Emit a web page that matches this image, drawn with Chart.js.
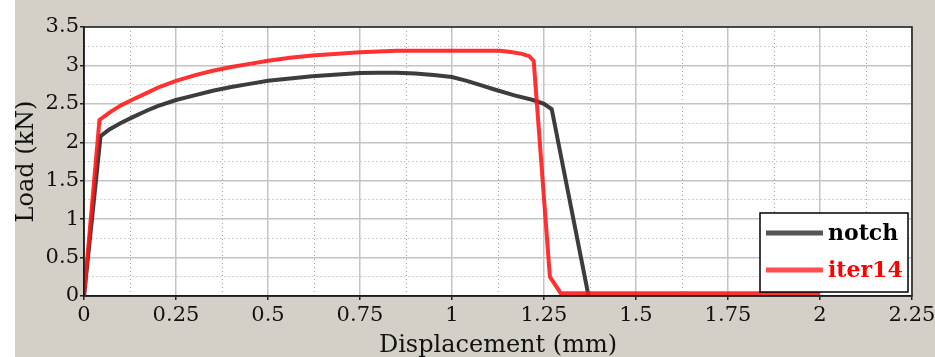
<!DOCTYPE html>
<html>
<head>
<meta charset="utf-8">
<script src="https://cdn.jsdelivr.net/npm/chart.js@4/dist/chart.umd.min.js"></script>
<style>
  body { margin: 0; background: #fff; }
  #wrap { position: absolute; left: 15px; top: 0; width: 920px; height: 357px; background: #d4d0c8; }
</style>
</head>
<body>
<div id="wrap"><canvas id="chart" width="920" height="357"></canvas></div>
<script>
// ---- data ----
const notchDisp = [0, 0.045, 0.07, 0.1, 0.134, 0.17, 0.2, 0.25, 0.3, 0.35, 0.4, 0.45, 0.5, 0.56, 0.62, 0.68, 0.75, 0.8, 0.85, 0.9, 0.95, 1.0, 1.04, 1.08, 1.12, 1.17, 1.22, 1.25, 1.271, 1.371];
const notchLoad = [0, 2.08, 2.17, 2.25, 2.33, 2.41, 2.47, 2.55, 2.61, 2.67, 2.72, 2.76, 2.80, 2.83, 2.86, 2.88, 2.90, 2.905, 2.905, 2.895, 2.875, 2.85, 2.80, 2.74, 2.68, 2.61, 2.55, 2.50, 2.43, 0];

const iterDisp = [0, 0.042, 0.07, 0.1, 0.134, 0.17, 0.2, 0.25, 0.3, 0.35, 0.4, 0.45, 0.5, 0.56, 0.62, 0.68, 0.75, 0.8, 0.85, 1.0, 1.13, 1.16, 1.19, 1.21, 1.222, 1.266, 1.295, 1.5, 1.75, 2.0];
const iterLoad = [0, 2.29, 2.39, 2.48, 2.56, 2.64, 2.71, 2.80, 2.87, 2.93, 2.98, 3.02, 3.06, 3.10, 3.13, 3.15, 3.17, 3.18, 3.19, 3.19, 3.19, 3.175, 3.15, 3.12, 3.06, 0.25, 0.04, 0.035, 0.035, 0.035];

const seriesNames = ["notch", "iter14"];
const xMin = 0, xMax = 2.25, xMajor = 0.25;
const yMin = 0, yMax = 3.5, yMajor = 0.5;

const FONT = "'DejaVu Serif', serif";

function pts(xs, ys) { return xs.map((x, i) => ({ x, y: ys[i] })); }
function isMajor(v, step) { const r = v / step; return Math.abs(r - Math.round(r)) < 1e-6; }

function gridFor(step) {
  return {
    color: (c) => (c.tick && isMajor(c.tick.value, step)) ? "#c4c4c4" : "#a4a4a4",
    lineWidth: (c) => (c.tick && isMajor(c.tick.value, step)) ? 1.5 : 1,
    tickColor: (c) => (c.tick && isMajor(c.tick.value, step)) ? "#222" : "rgba(0,0,0,0)",
    tickLength: 4,
    tickWidth: 1.5
  };
}
function borderFor(step) {
  return {
    display: true, color: "#222", width: 1.5,
    dash: (c) => (c.tick && !isMajor(c.tick.value, step)) ? [1, 3] : []
  };
}

// white plot area, frame round it, legend inside it
const framePlugin = {
  id: "frame",
  beforeDraw(chart) {
    const { ctx, chartArea: a } = chart;
    ctx.save();
    ctx.fillStyle = "#fff";
    ctx.fillRect(a.left, a.top, a.right - a.left, a.bottom - a.top);
    ctx.restore();
  },
  afterDraw(chart) {
    const { ctx, chartArea: a } = chart;
    ctx.save();
    ctx.strokeStyle = "#1a1a1a";
    ctx.lineWidth = 1.5;
    ctx.strokeRect(a.left, a.top, a.right - a.left, a.bottom - a.top);

    // legend box
    const bx = a.right - 152, by = a.bottom - 83, bw = 148, bh = 79;
    ctx.fillStyle = "#fff";
    ctx.fillRect(bx, by, bw, bh);
    ctx.strokeStyle = "#000";
    ctx.lineWidth = 1.5;
    ctx.strokeRect(bx, by, bw, bh);
    ctx.font = "bold 22px " + FONT;
    ctx.textBaseline = "middle";
    chart.data.datasets.slice().sort((p, q) => p.legendIndex - q.legendIndex).forEach((ds, i) => {
      const y = by + 20 + i * 37;
      ctx.strokeStyle = ds.legendColor;
      ctx.lineWidth = 5;
      ctx.beginPath();
      ctx.moveTo(bx + 6, y);
      ctx.lineTo(bx + 63, y);
      ctx.stroke();
      ctx.fillStyle = ds.legendText;
      ctx.fillText(ds.label, bx + 68, y + 1);
    });
    ctx.restore();
  }
};

new Chart(document.getElementById("chart"), {
  type: "line",
  data: {
    datasets: [
      {
        label: seriesNames[1], data: pts(iterDisp, iterLoad),
        borderColor: "rgba(255,20,20,0.88)", borderWidth: 4, order: 0,
        legendColor: "#ff5050", legendText: "#ff0000", legendIndex: 1
      },
      {
        label: seriesNames[0], data: pts(notchDisp, notchLoad),
        borderColor: "rgba(40,40,40,0.9)", borderWidth: 4, order: 1,
        legendColor: "#555555", legendText: "#000000", legendIndex: 0
      }
    ]
  },
  options: {
    responsive: false,
    animation: false,
    parsing: false,
    elements: { point: { radius: 0 }, line: { tension: 0 } },
    layout: { padding: { top: 27, right: 23, left: 0, bottom: 0 } },
    plugins: { legend: { display: false }, tooltip: { enabled: false } },
    scales: {
      x: {
        type: "linear", min: xMin, max: xMax,
        afterFit: (s) => { s.height = 61; s.paddingLeft = 0; s.paddingRight = 0; },
        ticks: {
          stepSize: xMajor / 2, autoSkip: false, maxRotation: 0, padding: 3,
          color: "#111", font: { family: FONT, size: 21 },
          callback: (v) => isMajor(v, xMajor) ? String(+v.toFixed(3)) : ""
        },
        grid: gridFor(xMajor),
        border: borderFor(xMajor),
        title: { display: true, text: "Displacement (mm)", color: "#111",
          font: { family: FONT, size: 24, lineHeight: 1 }, padding: { top: 0, bottom: -1 } }
      },
      y: {
        type: "linear", min: yMin, max: yMax,
        afterFit: (s) => { s.width = 69; s.paddingTop = 0; s.paddingBottom = 0; },
        ticks: {
          stepSize: yMajor / 2, autoSkip: false, padding: 1,
          color: "#111", font: { family: FONT, size: 21 },
          callback: (v) => isMajor(v, yMajor) ? String(+v.toFixed(3)) : ""
        },
        grid: gridFor(yMajor),
        border: borderFor(yMajor),
        title: { display: true, text: "Load (kN)", color: "#111",
          font: { family: FONT, size: 24, lineHeight: 1 }, padding: { top: 0, bottom: 0 } }
      }
    }
  },
  plugins: [framePlugin]
});
</script>
</body>
</html>
